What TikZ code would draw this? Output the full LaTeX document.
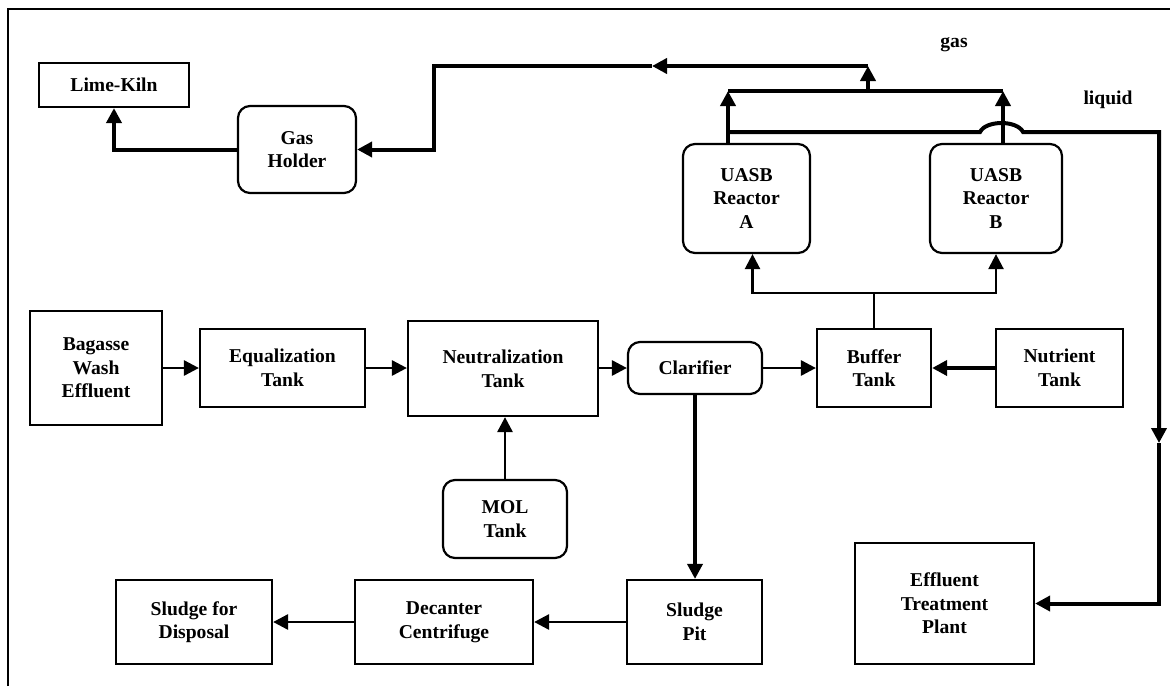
\documentclass[tikz,border=0pt]{standalone}
\usepackage{fontspec}
\setmainfont{Liberation Serif}
\usetikzlibrary{arrows.meta}

\begin{document}
\begin{tikzpicture}[x=0.5pt,y=-0.5pt]
		\tikzset{> = {Triangle[length=7.5pt,width=7.5pt]}}
		\tikzset{box/.style = {draw, line width=1.1pt, align=center, inner sep=0pt,
				font=\bfseries\fontsize{9.8}{11.8}\selectfont},
			rbox/.style = {box, rounded corners=6pt},
			flow/.style = {line width=1.4pt},
			gas/.style = {line width=2pt}}
		\useasboundingbox (0,0) rectangle (1170,686);
		\draw[line width=0.9pt] (8,686) -- (8,9) -- (1170,9);
		% gas side
		\node[box, minimum width=75pt, minimum height=22pt] (kiln) at (114,85) {Lime-Kiln};
		\node[rbox, minimum width=59pt, minimum height=43.5pt] (holder) at (297,149.5) {Gas\\Holder};
		\node[rbox, minimum width=63.5pt, minimum height=54.5pt] (uasbA) at (746.5,198.5) {UASB\\Reactor\\A};
		\node[rbox, minimum width=66pt, minimum height=54.5pt] (uasbB) at (996,198.5) {UASB\\Reactor\\B};
		% main line
		\node[box, minimum width=66pt, minimum height=57pt] (bagasse) at (96,368) {Bagasse\\Wash\\Effluent};
		\node[box, minimum width=82.5pt, minimum height=39pt] (equal) at (282.5,368) {Equalization\\Tank};
		\node[box, minimum width=95pt, minimum height=47.5pt] (neutral) at (503,368.5) {Neutralization\\Tank};
		\node[rbox, minimum width=67pt, minimum height=26pt] (clar) at (695,368) {Clarifier};
		\node[box, minimum width=57pt, minimum height=39pt] (buffer) at (874,368) {Buffer\\Tank};
		\node[box, minimum width=63.5pt, minimum height=39pt] (nutrient) at (1059.5,368) {Nutrient\\Tank};
		\node[rbox, minimum width=62pt, minimum height=39pt] (mol) at (505,519) {MOL\\Tank};
		% sludge line
		\node[box, minimum width=67.5pt, minimum height=42pt] (pit) at (694.5,622) {Sludge\\Pit};
		\node[box, minimum width=89pt, minimum height=42pt] (decanter) at (444,622) {Decanter\\Centrifuge};
		\node[box, minimum width=78pt, minimum height=42pt] (disposal) at (194,622) {Sludge for\\Disposal};
		\node[box, minimum width=89.5pt, minimum height=60.5pt] (etp) at (944.5,603.5) {Effluent\\Treatment\\Plant};
		\node[font=\bfseries\fontsize{9.8}{11.8}\selectfont] (gaslbl) at (954,45) {gas};
		\node[font=\bfseries\fontsize{9.8}{11.8}\selectfont] (liqlbl) at (1108,100) {liquid};
		% flows
		\draw[flow,->] (bagasse.east) -- (equal.west);
		\draw[flow,->] (equal.east) -- (equal.east -| neutral.west);
		\draw[flow,->] (neutral.east |- clar.west) -- (clar.west);
		\draw[flow,->] (clar.east) -- (buffer.west);
		\draw[line width=2.4pt,->] (nutrient.west) -- (buffer.east);
		\draw[flow,->] (mol.north) -- (mol.north |- neutral.south);
		\draw[line width=1.8pt,->] (clar.south) -- (clar.south |- pit.north);
		\draw[flow,->] (pit.west) -- (decanter.east);
		\draw[flow,->] (decanter.west) -- (disposal.east);
		\coordinate (feed) at (874,293);
		\draw[line width=1.2pt] (buffer.north) -- (feed);
		\draw[line width=1.2pt,->] (feed) -| ([xshift=3pt]uasbA.south);
		\draw[line width=1.2pt,->] (feed) -| (uasbB.south);
		% gas collection
		\coordinate (ga) at (728,91);
		\coordinate (gb) at (1003,91);
		\coordinate (gm) at (868,91);
		\coordinate (gt) at (868,66);
		\coordinate (gmid) at (652,66);
		\coordinate (gh) at (434,66);
		\draw[gas,->] (uasbA.north -| ga) -- (ga);
		\draw[gas,->] (uasbB.north -| gb) -- (gb);
		\draw[gas] (ga) -- (gb);
		\draw[gas,->] (gm) -- (gt);
		\draw[gas,->] (gt) -- (gmid);
		\draw[gas,->] (gmid) -- (gh) |- (holder.east);
		\draw[gas,->] (holder.west) -| (kiln.south);
		% liquid outlet
		\coordinate (la) at (728,132);
		\coordinate (hopL) at (980,132);
		\coordinate (hopR) at (1023,132);
		\coordinate (lc) at (1159,443);
		\draw[gas,->] (la) -- (hopL) .. controls (986,120) and (1017,120) .. (hopR) -| (lc);
		\draw[gas,->] (lc) |- (etp.east);
	\end{tikzpicture}
\end{document}
